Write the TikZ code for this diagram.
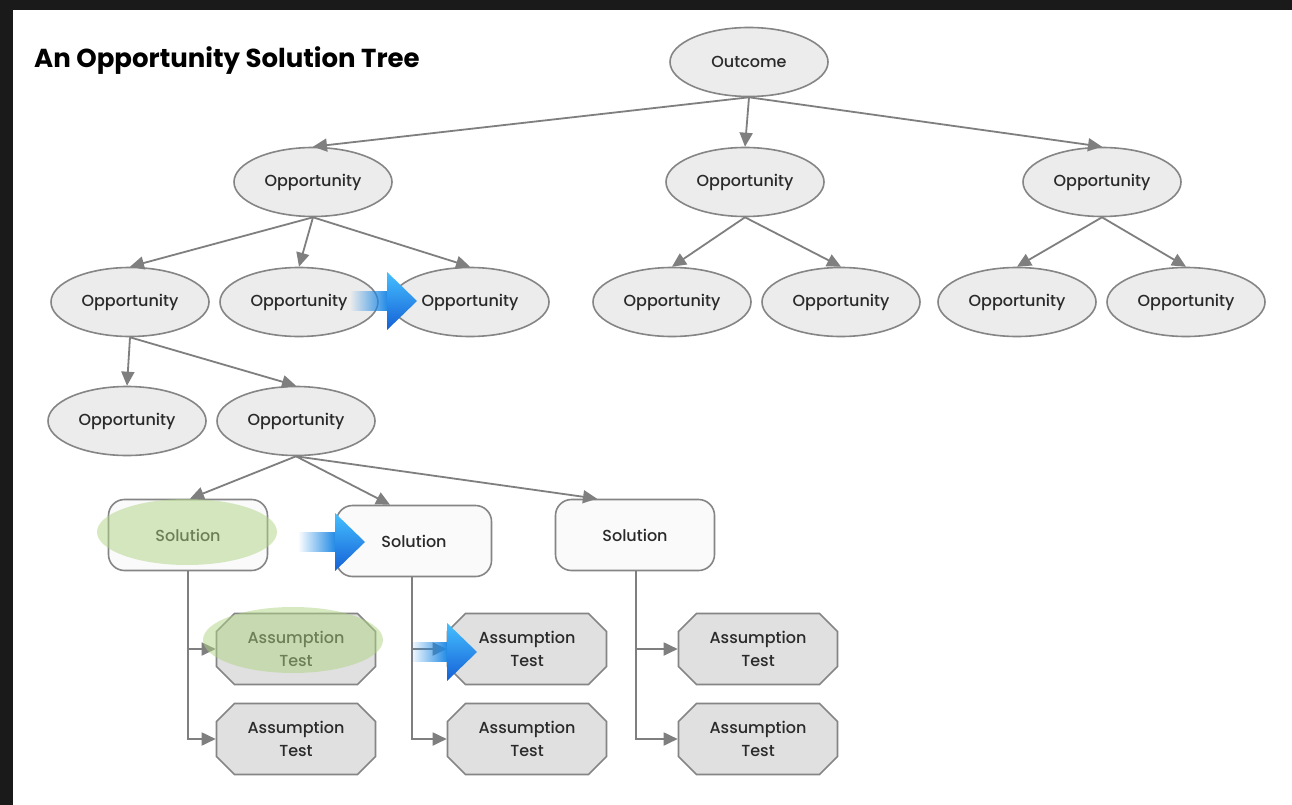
\documentclass[tikz,border=0pt]{standalone}
\usepackage{fontspec}
\setmainfont{Poppins Medium}[BoldFont={Poppins Bold}]
\usetikzlibrary{shapes.geometric,shapes.misc,arrows.meta,fadings}
\definecolor{darkbg}{HTML}{1A1A1A}
\definecolor{edgegray}{HTML}{7F7F7F}
\definecolor{nodeborder}{HTML}{858585}
\definecolor{oppfill}{HTML}{ECECEC}
\definecolor{solfill}{HTML}{FAFAFA}
\definecolor{testfill}{HTML}{E0E0E0}
\definecolor{textgray}{HTML}{2A2A2A}
\definecolor{hlgreen}{RGB}{175,212,130}
\definecolor{bluetop}{HTML}{45C0FF}
\definecolor{bluebot}{HTML}{1560D6}
\definecolor{bluebody}{HTML}{1E88E5}
\tikzfading[name=bodyfade, left color=transparent!100, middle color=transparent!15, right color=transparent!0]
\tikzset{
  nodetext/.style={font=\fontsize{16}{23}\selectfont, text=textgray},
  opp/.style={ellipse, draw=nodeborder, line width=1.6pt, fill=oppfill,
    minimum width=158pt, minimum height=69pt, inner sep=0pt, nodetext},
  sol/.style={rectangle, rounded corners=16pt, draw=nodeborder, line width=1.6pt,
    fill=solfill, minimum width=159pt, minimum height=71pt, inner sep=0pt, nodetext},
  atest/.style={chamfered rectangle, chamfered rectangle xsep=9pt,
    chamfered rectangle ysep=9pt, draw=nodeborder, line width=1.6pt,
    fill=testfill, minimum width=159pt, minimum height=71pt, inner sep=0pt,
    align=center, nodetext},
  conn/.style={draw=edgegray, line width=1.8pt, -{Triangle[length=14pt,width=13pt]}},
  hilite/.style={fill=hlgreen, fill opacity=0.5, draw=none},
}
\newcommand{\glossyarrow}[2]{%
  \fill[bluebody, path fading=bodyfade] (#1-67,#2-10) rectangle (#1-29,#2+10);
  \shade[top color=bluetop, bottom color=bluebot]
    (#1-30,#2-29) -- (#1,#2) -- (#1-30,#2+29) -- cycle;
}
\begin{document}
\begin{tikzpicture}[x=1pt,y=-1pt]
\fill[darkbg] (0,0) rectangle (1292,805);
\fill[white] (13,10) rectangle (1292,805);
\useasboundingbox (0,0) rectangle (1292,805);

\node[anchor=base west, inner sep=0pt, font=\fontsize{26}{30}\selectfont\bfseries, text=black] (title) at (34,68) {An Opportunity Solution Tree};

\node[opp] (outcome) at (749,62) {Outcome};

\node[opp] (o1) at (313,182) {Opportunity};
\node[opp] (o2) at (745,182) {Opportunity};
\node[opp] (o3) at (1102,182) {Opportunity};

\node[opp] (o11) at (130,302) {Opportunity};
\node[opp] (o12) at (299,302) {Opportunity};
\node[opp] (o13) at (470,302) {Opportunity};
\node[opp] (o21) at (672,302) {Opportunity};
\node[opp] (o22) at (841,302) {Opportunity};
\node[opp] (o31) at (1017,302) {Opportunity};
\node[opp] (o32) at (1186,302) {Opportunity};

\node[opp] (o111) at (127,421) {Opportunity};
\node[opp] (o112) at (296,421) {Opportunity};

\node[sol] (s1) at (188,535) {Solution};
\node[sol, minimum width=155pt] (s2) at (414,541) {Solution};
\node[sol] (s3) at (635,535) {Solution};

\node[atest] (t1a) at (296,649) {Assumption\\Test};
\node[atest] (t1b) at (296,739) {Assumption\\Test};
\node[atest] (t2a) at (527,649) {Assumption\\Test};
\node[atest] (t2b) at (527,739) {Assumption\\Test};
\node[atest] (t3a) at (758,649) {Assumption\\Test};
\node[atest] (t3b) at (758,739) {Assumption\\Test};

\draw[conn] (outcome.south) -- (o1.north);
\draw[conn] (outcome.south) -- (o2.north);
\draw[conn] (outcome.south) -- (o3.north);

\draw[conn] (o1.south) -- (o11.north);
\draw[conn] (o1.south) -- (o12.north);
\draw[conn] (o1.south) -- (o13.north);
\draw[conn] (o2.south) -- (o21.north);
\draw[conn] (o2.south) -- (o22.north);
\draw[conn] (o3.south) -- (o31.north);
\draw[conn] (o3.south) -- (o32.north);

\draw[conn] (o11.south) -- (o111.north);
\draw[conn] (o11.south) -- (o112.north);

\draw[conn] (o112.south) -- ([xshift=2pt]s1.north);
\draw[conn] (o112.south) -- ([xshift=-24pt]s2.north);
\draw[conn] (o112.south) -- ([xshift=-38pt]s3.north);

\draw[conn] (s1.south) |- (t1a.west);
\draw[conn] (s1.south) |- (t1b.west);
\draw[conn] ([xshift=-2pt]s2.south) |- (t2a.west);
\draw[conn] ([xshift=-2pt]s2.south) |- (t2b.west);
\draw[conn] ([xshift=1pt]s3.south) |- (t3a.west);
\draw[conn] ([xshift=1pt]s3.south) |- (t3b.west);

\fill[hilite] (187,532) ellipse [x radius=90, y radius=33];
\fill[hilite] (293,640) ellipse [x radius=90, y radius=33];

\glossyarrow{417}{301}
\glossyarrow{365}{542}
\glossyarrow{477}{652}
\end{tikzpicture}
\end{document}
